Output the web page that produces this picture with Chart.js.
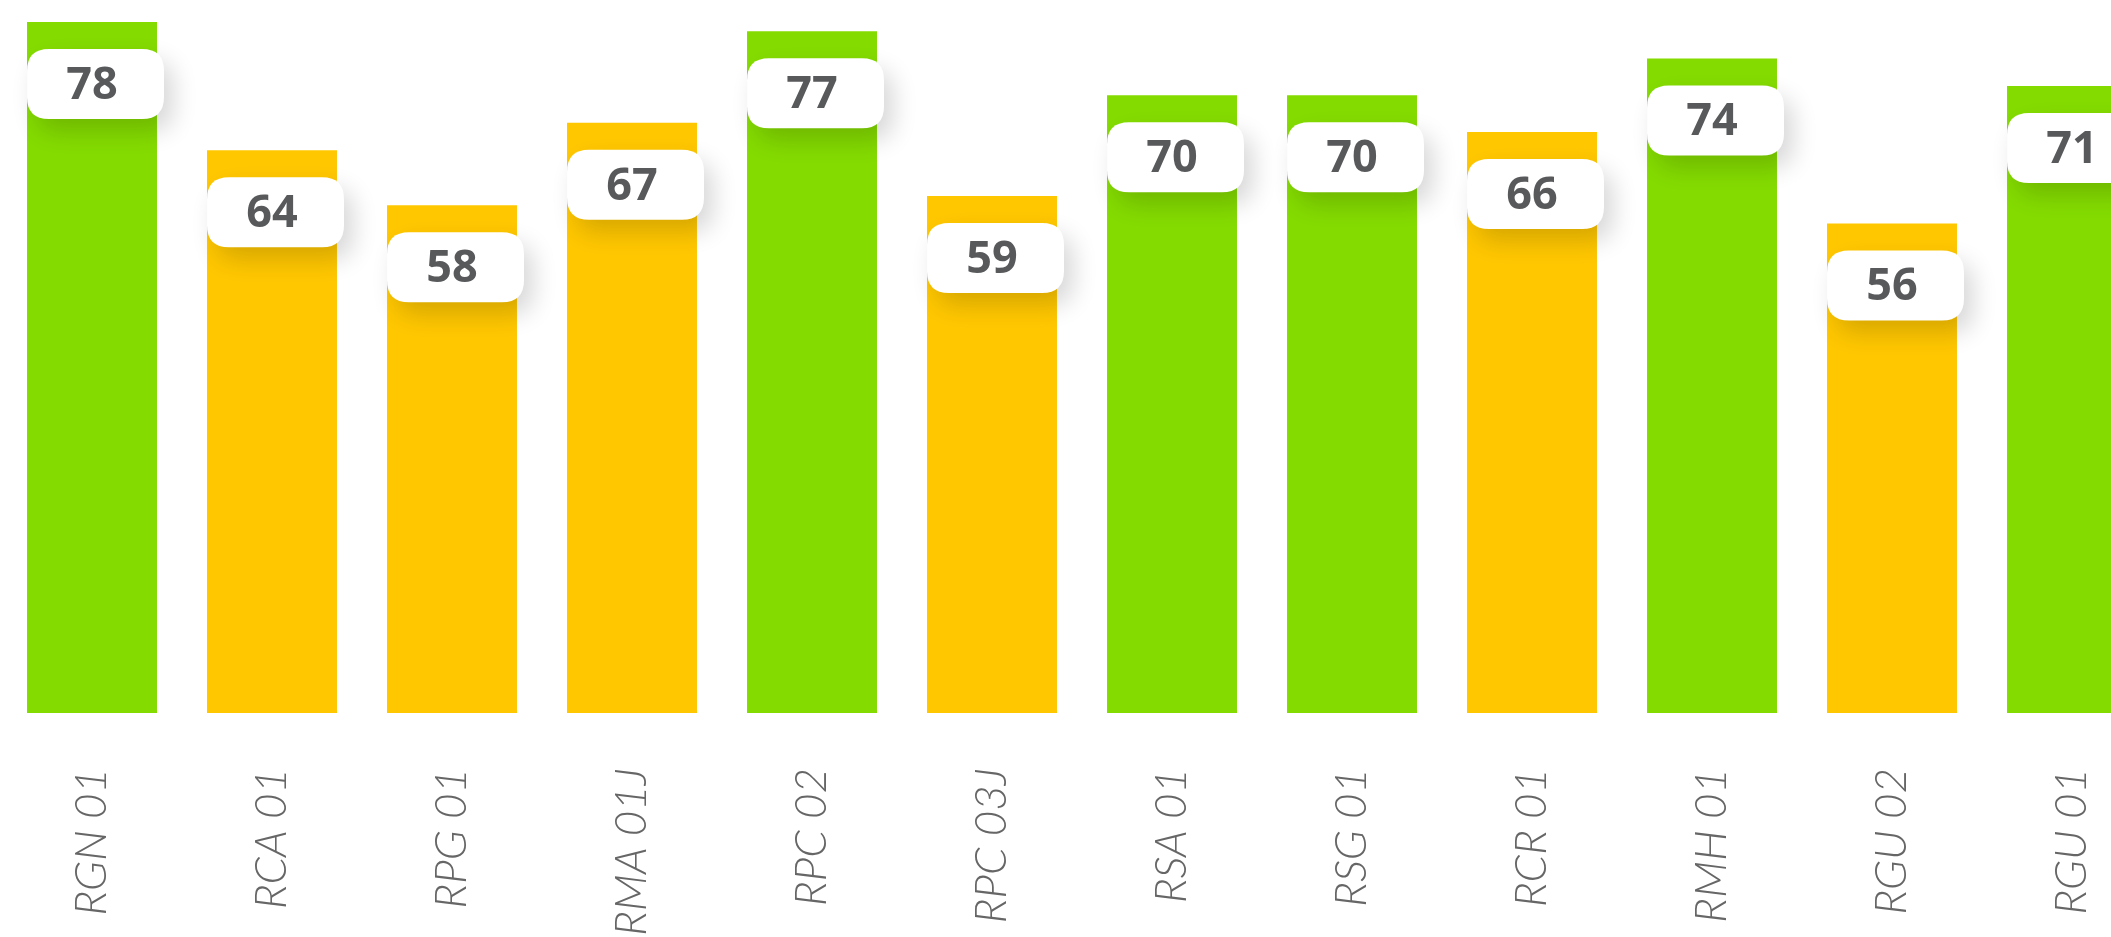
<!DOCTYPE html>
<html>
<head>
<meta charset="utf-8">
<script src="https://cdn.jsdelivr.net/npm/chart.js@4"></script>
<style>
  html, body { margin: 0; padding: 0; background: #fff; overflow: hidden; }
  #barChart { display: block; width: 2164px; height: 937px; }
</style>
</head>
<body>
<canvas id="barChart" width="2164" height="937"></canvas>
<script>
const labels = ["RGN 01", "RCA 01", "RPG 01", "RMA 01J", "RPC 02", "RPC 03J", "RSA 01", "RSG 01", "RCR 01", "RMH 01", "RGU 02", "RGU 01"];
const scores = [78, 64, 58, 67, 77, 59, 70, 70, 66, 74, 56, 71];
const threshold = 70;

const palette = {
  green: "#84db00",
  gold: "#ffc700",
  text: "#58595b",
  label: "#666666",
};

function roundRect(ctx, x, y, w, h, r) {
  ctx.beginPath();
  ctx.moveTo(x + r, y);
  ctx.lineTo(x + w - r, y);
  ctx.quadraticCurveTo(x + w, y, x + w, y + r);
  ctx.lineTo(x + w, y + h - r);
  ctx.quadraticCurveTo(x + w, y + h, x + w - r, y + h);
  ctx.lineTo(x + r, y + h);
  ctx.quadraticCurveTo(x, y + h, x, y + h - r);
  ctx.lineTo(x, y + r);
  ctx.quadraticCurveTo(x, y, x + r, y);
  ctx.closePath();
}

// white pill with the value, pinned just under each bar top
const pillLabels = {
  id: "pillLabels",
  afterDatasetsDraw(chart) {
    const ctx = chart.ctx;
    const meta = chart.getDatasetMeta(0);
    meta.data.forEach((bar, i) => {
      const left = bar.x - bar.width / 2;
      const top = bar.y + 27;
      const w = bar.width + 7;
      const h = 70;
      ctx.save();
      ctx.shadowColor = "rgba(0, 0, 0, 0.16)";
      ctx.shadowBlur = 24;
      ctx.shadowOffsetX = 9;
      ctx.shadowOffsetY = 12;
      ctx.fillStyle = "#ffffff";
      roundRect(ctx, left, top, w, h, 22);
      ctx.fill();
      ctx.restore();

      ctx.save();
      ctx.fillStyle = palette.text;
      ctx.font = 'bold 45px "Open Sans", "DejaVu Sans", sans-serif';
      ctx.textAlign = "center";
      ctx.textBaseline = "middle";
      ctx.fillText(String(scores[i]), bar.x, top + h / 2 + 2);
      ctx.restore();
    });
  },
};

new Chart(document.getElementById("barChart"), {
  type: "bar",
  data: {
    labels: labels,
    datasets: [
      {
        data: scores,
        backgroundColor: scores.map((v) => (v >= threshold ? palette.green : palette.gold)),
        borderWidth: 0,
        barPercentage: 0.722,
        categoryPercentage: 1,
      },
    ],
  },
  options: {
    responsive: false,
    animation: false,
    layout: { padding: { left: 2, right: 2, top: 0, bottom: 0 } },
    plugins: { legend: { display: false }, tooltip: { enabled: false } },
    scales: {
      y: {
        display: false,
        min: 2.55,
        max: 80.4,
      },
      x: {
        grid: { display: false, drawTicks: false },
        border: { display: false },
        afterFit: (scale) => {
          scale.height = 224;
          scale.paddingLeft = 0;
          scale.paddingRight = 0;
        },
        ticks: {
          minRotation: 90,
          maxRotation: 90,
          padding: 55,
          color: palette.label,
          font: { family: "Lato, 'Open Sans', sans-serif", size: 44, style: "italic", weight: 300 },
        },
      },
    },
  },
  plugins: [pillLabels],
});
</script>
</body>
</html>
